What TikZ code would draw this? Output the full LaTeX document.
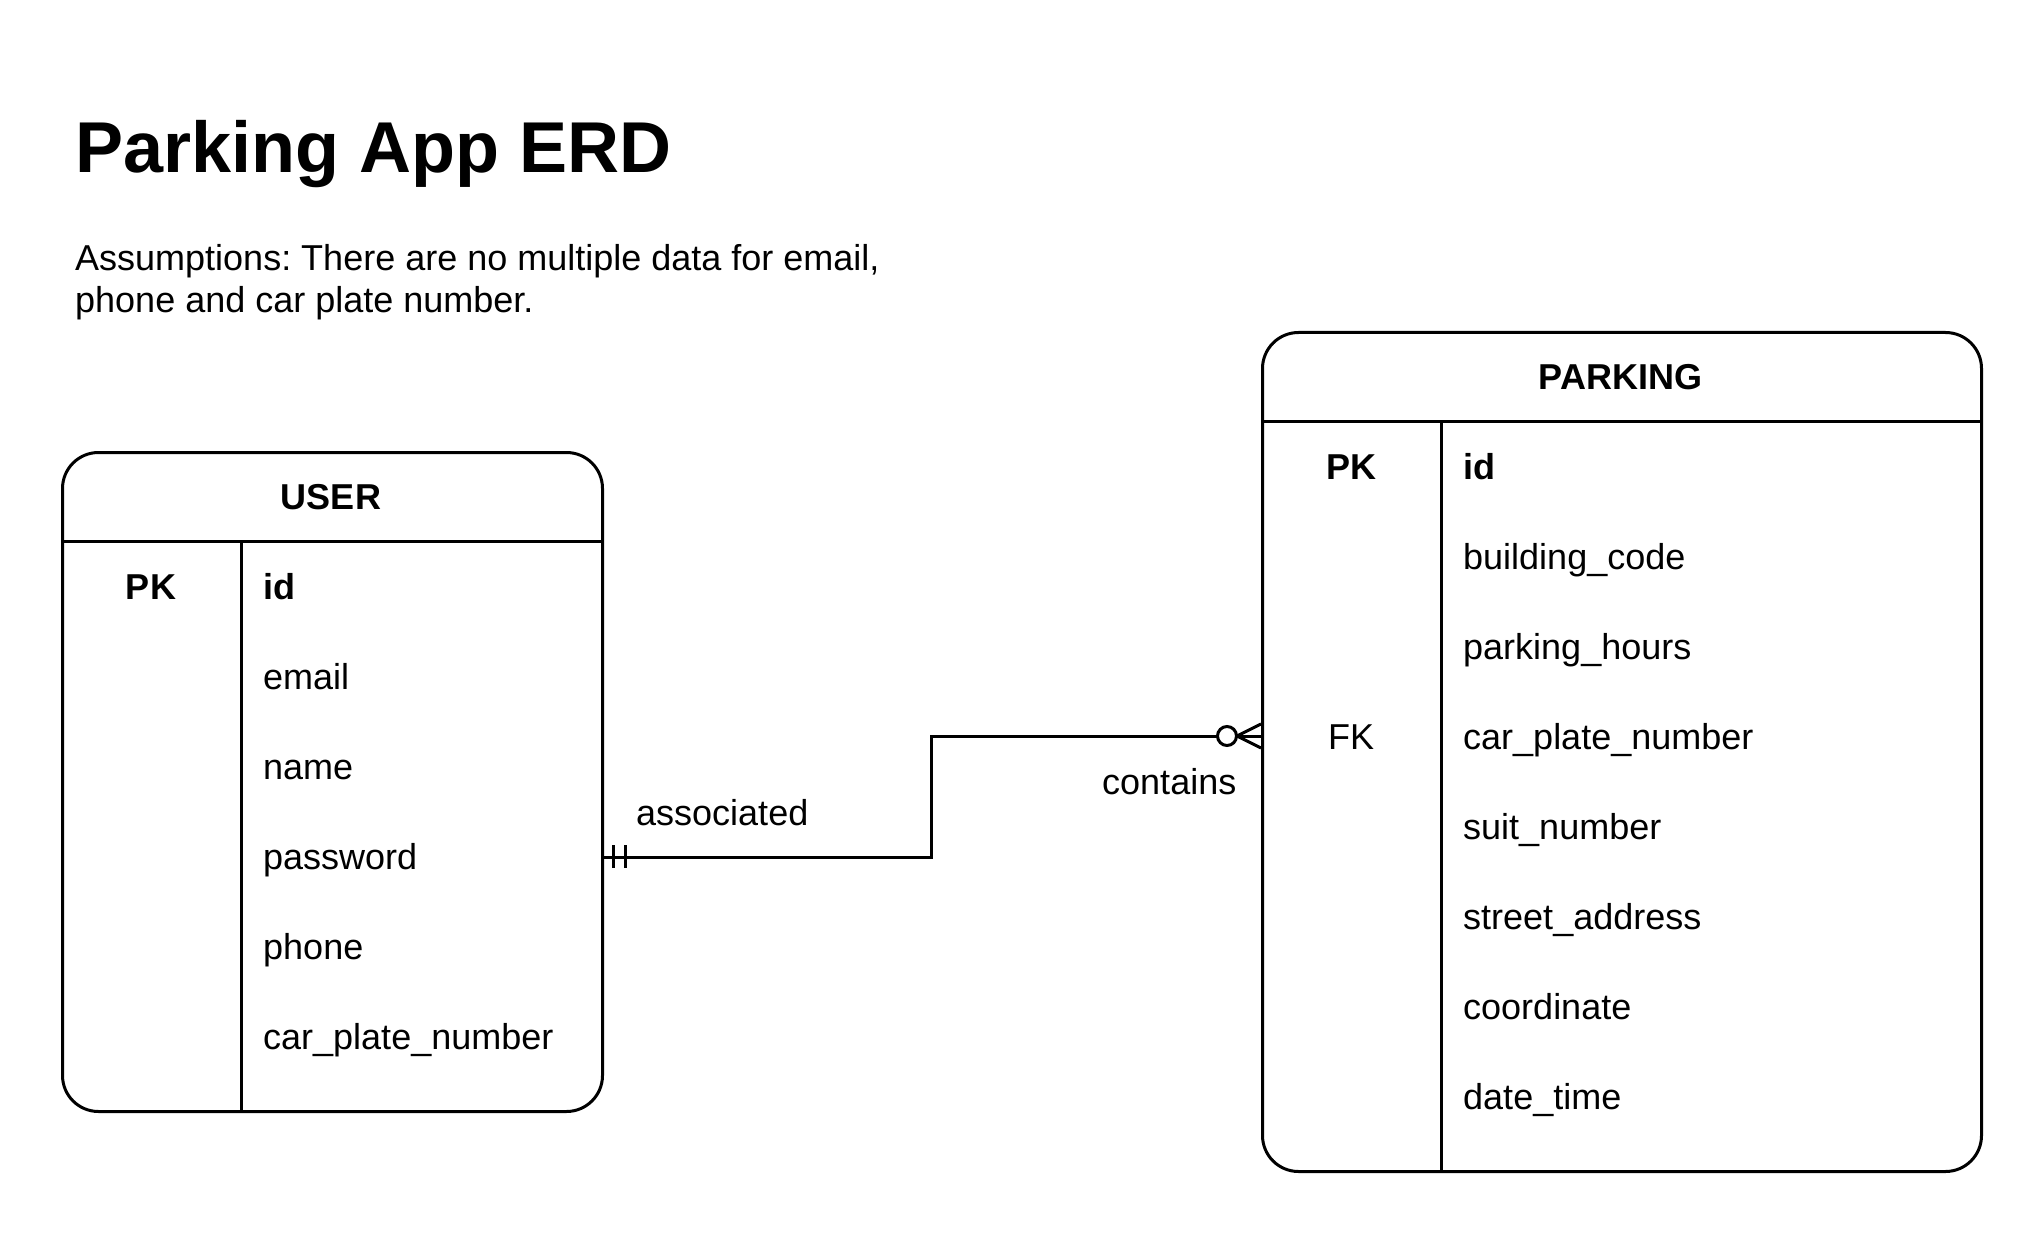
\documentclass[tikz,border=0pt]{standalone}
\usepackage{fontspec}
\setmainfont{Liberation Sans}
\frenchspacing
\begin{document}
\begin{tikzpicture}[x=1pt,y=-1pt,
  tablebox/.style={draw=black, line width=3pt, rounded corners=36pt, inner sep=0pt, fill=white},
  rule/.style={draw=black, line width=3pt},
  conn/.style={draw=black, line width=3pt},
  bodytxt/.style={inner sep=0pt, anchor=base west, font=\fontsize{36}{43}\selectfont},
  keytxt/.style={inner sep=0pt, anchor=base, font=\fontsize{36}{43}\selectfont\bfseries},
  headtxt/.style={inner sep=0pt, anchor=base, font=\fontsize{36}{43}\selectfont\bfseries},
  lbl/.style={inner sep=0pt, anchor=base west, font=\fontsize{36}{43}\selectfont}
]
\useasboundingbox[fill=white] (0,0) rectangle (2043,1233);

% title and note
\node[inner sep=0pt, anchor=base west, font=\fontsize{72}{86}\selectfont\bfseries] (title) at (75,173) {Parking App ERD};
\node[inner sep=0pt, anchor=base west, font=\fontsize{36}{43}\selectfont] (note1) at (75,271) {Assumptions: There are no multiple data for email,};
\node[inner sep=0pt, anchor=base west, font=\fontsize{36}{43}\selectfont] (note2) at (75,313) {phone and car plate number.};

% USER table
\node[tablebox, minimum width=540pt, minimum height=659pt, anchor=north west] (user) at (61,451) {};
\draw[rule] (61,541) -- (601,541);
\draw[rule] (241,541) -- (241,1110);
\node[headtxt] (userhead) at (331,509) {USER};
\node[keytxt] (userpk) at (151,599) {PK};
\node[bodytxt, font=\fontsize{36}{43}\selectfont\bfseries] (uid) at (263,599) {id};
\node[bodytxt] (uemail) at (263,689) {email};
\node[bodytxt] (uname) at (263,779) {name};
\node[bodytxt] (upw) at (263,869) {password};
\node[bodytxt] (uphone) at (263,959) {phone};
\node[bodytxt] (ucar) at (263,1049) {car\_plate\_number};

% PARKING table
\node[tablebox, minimum width=719pt, minimum height=839pt, anchor=north west] (parking) at (1261,331) {};
\draw[rule] (1261,421) -- (1980,421);
\draw[rule] (1441,421) -- (1441,1170);
\node[headtxt] (parkhead) at (1620.5,389) {PARKING};
\node[keytxt] (ppk) at (1351,479) {PK};
\node[bodytxt, font=\fontsize{36}{43}\selectfont\bfseries] (pid) at (1463,479) {id};
\node[bodytxt] (pbc) at (1463,569) {building\_code};
\node[bodytxt] (phours) at (1463,659) {parking\_hours};
\node[inner sep=0pt, anchor=base, font=\fontsize{36}{43}\selectfont] (pfk) at (1351,749) {FK};
\node[bodytxt] (pcar) at (1463,749) {car\_plate\_number};
\node[bodytxt] (psuit) at (1463,839) {suit\_number};
\node[bodytxt] (pstreet) at (1463,929) {street\_address};
\node[bodytxt] (pcoord) at (1463,1019) {coordinate};
\node[bodytxt] (pdate) at (1463,1109) {date\_time};

% connector
\coordinate (ua) at (user.east |- 0,857);
\coordinate (pa) at (parking.west |- 0,736);
\coordinate (mid) at (931,857);
\draw[conn] (ua) -- (mid) |- (pa);
% one-and-only-one marks
\draw[conn] (613,845) -- (613,868);
\draw[conn] (625,845) -- (625,868);
% zero-or-many marks
\draw[conn] (1237,736) -- (1261,724);
\draw[conn] (1237,736) -- (1261,748);
\draw[conn, fill=white] (1227,736) circle (9.5pt);

% labels
\node[lbl] (assoc) at (636,825) {associated};
\node[lbl] (cont) at (1102,794) {contains};
\end{tikzpicture}
\end{document}
